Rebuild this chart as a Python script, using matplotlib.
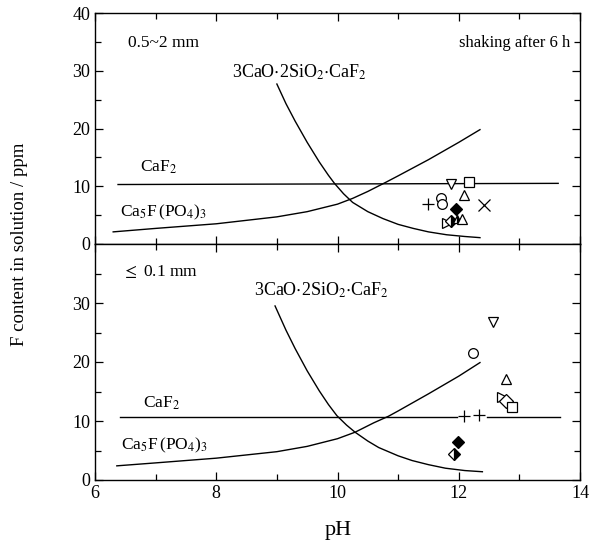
import numpy as np
import matplotlib
matplotlib.use("Agg")
from matplotlib import pyplot as plt

plt.rcParams['font.family'] = ['Liberation Serif', 'DejaVu Serif']
plt.rcParams['mathtext.fontset'] = 'stix'

# ---- data (pH, F ppm) ----
# upper panel, 0.5~2 mm
caf2_ph_a = [6.38, 13.64]
caf2_ppm_a = [10.3, 10.5]
apatite_ph_a = [6.3, 7.0, 8.0, 9.0, 9.5, 10.0, 10.25, 10.5, 10.8, 11.0, 11.5, 12.0, 12.35]
apatite_ppm_a = [2.1, 2.7, 3.5, 4.7, 5.6, 6.9, 7.9, 9.1, 10.7, 11.8, 14.6, 17.6, 19.8]
cuspidine_ph_a = [9.0, 9.15, 9.3, 9.5, 9.7, 9.85, 9.95, 10.1, 10.25, 10.5, 10.75, 11.0, 11.25, 11.5, 11.8, 12.1, 12.35]
cuspidine_ppm_a = [27.7, 24.3, 21.3, 17.6, 14.2, 11.9, 10.5, 8.7, 7.2, 5.6, 4.4, 3.4, 2.7, 2.1, 1.6, 1.3, 1.1]

# lower panel, <= 0.1 mm
caf2_ph_b = [6.41, 11.97, np.nan, 12.47, 13.67]
caf2_ppm_b = [10.6, 10.6, np.nan, 10.7, 10.7]
apatite_ph_b = [6.36, 7.0, 8.0, 9.0, 9.5, 10.0, 10.29, 10.6, 10.84, 11.0, 11.5, 12.0, 12.35]
apatite_ppm_b = [2.4, 2.9, 3.7, 4.8, 5.7, 7.0, 8.1, 9.7, 10.8, 11.7, 14.6, 17.6, 19.9]
cuspidine_ph_b = [8.97, 9.15, 9.3, 9.5, 9.7, 9.85, 9.99, 10.15, 10.29, 10.5, 10.68, 11.0, 11.23, 11.5, 11.78, 12.1, 12.39]
cuspidine_ppm_b = [29.5, 25.4, 22.3, 18.5, 15.1, 12.8, 10.9, 9.3, 8.1, 6.6, 5.5, 4.1, 3.3, 2.6, 2.0, 1.6, 1.4]

# samples: (marker, fill, pH, ppm)
samples_a = [
    ('v', 'none', 11.87, 10.4),
    ('s', 'none', 12.17, 10.8),
    ('^', 'none', 12.08, 8.5),
    ('+', 'none', 11.50, 6.9),
    ('o', 'none', 11.71, 7.9),
    ('o', 'none', 11.72, 7.0),
    ('D', 'full', 11.95, 6.0),
    ('x', 'none', 12.41, 6.7),
    ('>', 'none', 11.80, 3.6),
    ('D', 'right', 11.88, 4.0),
    ('^', 'right', 11.97, 4.3),
    ('^', 'none', 12.05, 4.3),
]
samples_b = [
    ('v', 'none', 12.56, 26.8),
    ('o', 'none', 12.23, 21.6),
    ('^', 'none', 12.78, 17.1),
    ('>', 'none', 12.71, 14.1),
    ('D', 'none', 12.78, 13.4),
    ('s', 'none', 12.88, 12.3),
    ('+', 'none', 12.09, 10.8),
    ('+', 'none', 12.34, 11.1),
    ('D', 'full', 11.98, 6.4),
    ('D', 'right', 11.92, 4.4),
]

fig = plt.figure(figsize=(5.91, 5.46), dpi=100)
L, R = 95 / 591, 580 / 591
ax_a = fig.add_axes([L, 1 - 244 / 546, R - L, 231 / 546])
ax_b = fig.add_axes([L, 1 - 480 / 546, R - L, 236 / 546])

lw = 1.0


def draw_samples(ax, samples):
    for m, fill, x, y in samples:
        kw = dict(ms=7, mec='black', mew=0.9, ls='none', zorder=5)
        if m in ('+', 'x'):
            kw['ms'] = 8
            ax.plot(x, y, marker=m, color='black', **kw)
        elif fill == 'full':
            ax.plot(x, y, marker=m, mfc='black', **{**kw, 'ms': 6})
        elif fill == 'right':
            ax.plot(x, y, marker=m, mfc='black', mfcalt='white', fillstyle='right', **{**kw, 'ms': 6})
        else:
            ax.plot(x, y, marker=m, mfc='white', **kw)


for ax in (ax_a, ax_b):
    ax.set_xlim(6, 14)
    ax.set_ylim(0, 40)
    ax.set_xticks([6, 8, 10, 12, 14])
    ax.set_xticks([7, 9, 11, 13], minor=True)
    ax.set_yticks([5, 15, 25, 35], minor=True)
    ax.tick_params(which='both', direction='in', top=True, right=True, labelsize=13, width=0.9)
    ax.tick_params(which='major', length=6)
    ax.tick_params(which='minor', length=4)
    for s in ax.spines.values():
        s.set_linewidth(1.0)

ax_a.set_yticks([0, 10, 20, 30, 40])
ax_a.tick_params(labelbottom=False)
ax_b.set_yticks([0, 10, 20, 30])

ax_a.plot(caf2_ph_a, caf2_ppm_a, color='black', lw=lw)
ax_a.plot(apatite_ph_a, apatite_ppm_a, color='black', lw=lw)
ax_a.plot(cuspidine_ph_a, cuspidine_ppm_a, color='black', lw=lw)
draw_samples(ax_a, samples_a)

ax_b.plot(caf2_ph_b, caf2_ppm_b, color='black', lw=lw)
ax_b.plot(apatite_ph_b, apatite_ppm_b, color='black', lw=lw)
ax_b.plot(cuspidine_ph_b, cuspidine_ppm_b, color='black', lw=lw)
draw_samples(ax_b, samples_b)

fs = 12.5
ax_a.text(6.55, 34.8, '0.5~2 mm', fontsize=fs, va='center')
ax_a.text(13.84, 34.8, 'shaking after 6 h', fontsize=12, va='center', ha='right')
ax_a.text(9.37, 29.8, r'3CaO$\cdot$2SiO$_2$$\cdot$CaF$_2$', fontsize=13, va='center', ha='center')
ax_a.text(6.74, 13.2, r'CaF$_2$', fontsize=fs, va='center')
ax_a.text(6.41, 5.5, r'Ca$_5$F$\,$(PO$_4$)$_3$', fontsize=fs, va='center')

ax_b.text(6.45, 35.3, r'$\leq$ 0.1 mm', fontsize=fs, va='center')
ax_b.text(9.73, 32.2, r'3CaO$\cdot$2SiO$_2$$\cdot$CaF$_2$', fontsize=13, va='center', ha='center')
ax_b.text(6.79, 13.0, r'CaF$_2$', fontsize=fs, va='center')
ax_b.text(6.43, 5.9, r'Ca$_5$F$\,$(PO$_4$)$_3$', fontsize=fs, va='center')

fig.text(20 / 591, 1 - 244 / 546, 'F content in solution / ppm', rotation=90,
         fontsize=13.5, va='center', ha='center')
fig.text(338 / 591, 1 - 530 / 546, 'pH', fontsize=16, va='center', ha='center')

fig.savefig('out.png', dpi=100)
